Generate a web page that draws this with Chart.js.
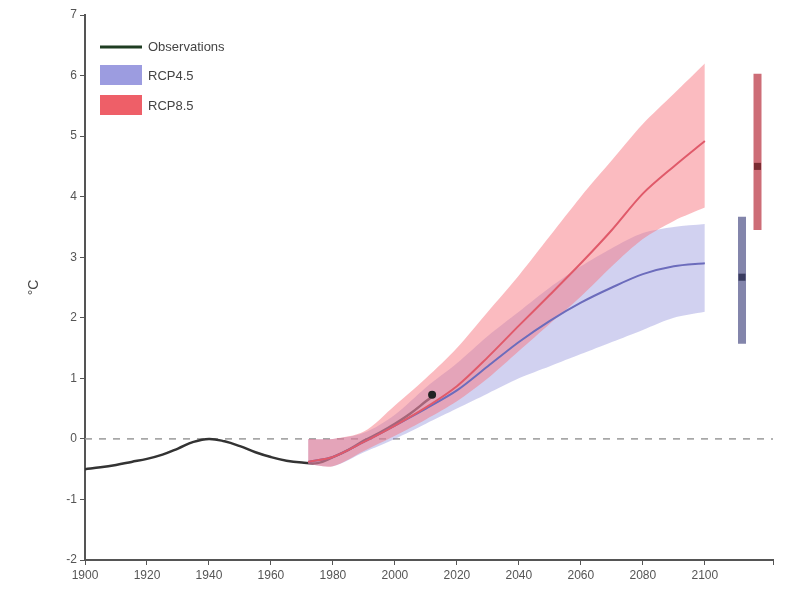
<!DOCTYPE html>
<html>
<head>
<meta charset="utf-8">
<script src="https://cdn.jsdelivr.net/npm/chart.js@4.4.0/dist/chart.umd.min.js"></script>
<style>
  html, body { margin: 0; padding: 0; background: #fff; }
  #wrap { width: 798px; height: 594px; }
</style>
</head>
<body>
<div id="wrap"><canvas id="tempChart"></canvas></div>
<script>
// Observed temperature anomaly (°C)
const obsYears = [1900, 1905, 1910, 1915, 1920, 1925, 1930, 1935, 1940, 1945, 1950, 1955, 1960, 1965, 1970, 1975, 1980, 1985, 1990, 1995, 2000, 2005, 2010, 2012];
const obsValues = [-0.5, -0.47, -0.43, -0.38, -0.33, -0.26, -0.16, -0.05, 0.0, -0.04, -0.12, -0.22, -0.3, -0.36, -0.39, -0.4, -0.3, -0.18, -0.03, 0.1, 0.25, 0.42, 0.62, 0.7];

// Projection years
const projYears = [1972, 1980, 1990, 2000, 2010, 2020, 2030, 2040, 2050, 2060, 2070, 2080, 2090, 2100];

// RCP8.5
const rcp85Mean  = [-0.38, -0.3, -0.05, 0.22, 0.52, 0.87, 1.35, 1.87, 2.38, 2.9, 3.45, 4.05, 4.5, 4.92];
const rcp85Upper = [0.0, 0.0, 0.12, 0.55, 1.0, 1.5, 2.1, 2.7, 3.35, 4.0, 4.6, 5.2, 5.7, 6.2];
const rcp85Lower = [-0.42, -0.45, -0.2, 0.05, 0.32, 0.62, 1.0, 1.45, 1.9, 2.35, 2.85, 3.3, 3.6, 3.82];

// RCP4.5
const rcp45Mean  = [-0.38, -0.3, -0.05, 0.22, 0.5, 0.8, 1.2, 1.6, 1.95, 2.25, 2.5, 2.72, 2.85, 2.9];
const rcp45Upper = [0.0, 0.0, 0.1, 0.4, 0.85, 1.25, 1.7, 2.1, 2.5, 2.85, 3.15, 3.4, 3.5, 3.55];
const rcp45Lower = [-0.42, -0.45, -0.22, 0.0, 0.25, 0.5, 0.75, 1.0, 1.2, 1.4, 1.6, 1.8, 2.0, 2.1];

// End-of-century ranges shown at the right
const rangeNames = ['RCP4.5', 'RCP8.5'];
const rangeX     = [2112, 2117];
const rangeLow   = [1.57, 3.45];
const rangeHigh  = [3.67, 6.03];
const rangeMid   = [2.67, 4.5];

// Last observed point marker
const lastObs = { x: 2012, y: 0.73 };

// Reference line at zero
const zeroLineX = [1900, 2122];

function pts(xs, ys) {
    return xs.map((x, i) => ({ x: x, y: ys[i] }));
}

const red = '#e05a6a';
const redBand = 'rgba(248, 120, 130, 0.5)';
const blue = '#6c6cbc';
const blueBand = 'rgba(135, 135, 215, 0.38)';
const font = '"Liberation Sans", Arial, sans-serif';

// Note: with equal "order", earlier datasets are drawn on top
const datasets = [
    // vertical range bars: medians first so they sit on top
    {
        label: 'RCP4.5 median', data: [{ x: rangeX[0], y: rangeMid[0] }],
        showLine: false, pointStyle: 'rect', pointRadius: 5,
        pointBackgroundColor: '#3a3c60', pointBorderWidth: 0,
    },
    {
        label: 'RCP8.5 median', data: [{ x: rangeX[1], y: rangeMid[1] }],
        showLine: false, pointStyle: 'rect', pointRadius: 5,
        pointBackgroundColor: '#7a2c32', pointBorderWidth: 0,
    },
    {
        label: 'RCP4.5 range', data: pts([rangeX[0], rangeX[0]], [rangeLow[0], rangeHigh[0]]),
        borderColor: '#8385ab', borderWidth: 8, borderCapStyle: 'butt', pointRadius: 0, fill: false,
    },
    {
        label: 'RCP8.5 range', data: pts([rangeX[1], rangeX[1]], [rangeLow[1], rangeHigh[1]]),
        borderColor: '#cd6d77', borderWidth: 8, borderCapStyle: 'butt', pointRadius: 0, fill: false,
    },
    // last observation marker
    {
        label: 'lastObs', data: [lastObs],
        showLine: false, pointRadius: 4, pointBackgroundColor: '#222', pointBorderWidth: 0,
    },
    // means
    {
        label: 'rcp85mean', data: pts(projYears, rcp85Mean),
        borderColor: red, borderWidth: 2, pointRadius: 0, fill: false, tension: 0.3,
    },
    {
        label: 'rcp45mean', data: pts(projYears, rcp45Mean),
        borderColor: blue, borderWidth: 2, pointRadius: 0, fill: false, tension: 0.3,
    },
    // RCP8.5 band (upper filled to lower)
    {
        label: 'RCP8.5', data: pts(projYears, rcp85Upper),
        borderWidth: 0, pointRadius: 0, backgroundColor: redBand, fill: '+1', tension: 0.3,
    },
    {
        label: 'rcp85lower', data: pts(projYears, rcp85Lower),
        borderWidth: 0, pointRadius: 0, fill: false, tension: 0.3,
    },
    // RCP4.5 band
    {
        label: 'RCP4.5', data: pts(projYears, rcp45Upper),
        borderWidth: 0, pointRadius: 0, backgroundColor: blueBand, fill: '+1', tension: 0.3,
    },
    {
        label: 'rcp45lower', data: pts(projYears, rcp45Lower),
        borderWidth: 0, pointRadius: 0, fill: false, tension: 0.3,
    },
    // observations (under the projections)
    {
        label: 'Observations', data: pts(obsYears, obsValues),
        borderColor: '#333333', borderWidth: 2.5, pointRadius: 0, fill: false, tension: 0.4,
    },
    // zero reference line
    {
        label: 'zero', data: zeroLineX.map(x => ({ x: x, y: 0 })),
        borderColor: '#9a9a9a', borderWidth: 1.5, borderDash: [7, 7],
        pointRadius: 0, fill: false,
    },
];

// legend drawn in the top-left of the plot area
const insideLegend = {
    id: 'insideLegend',
    afterDraw(chart) {
        const ctx = chart.ctx;
        const a = chart.chartArea;
        const x0 = a.left + 15;
        ctx.save();
        ctx.font = '13px ' + font;
        ctx.textBaseline = 'middle';
        // Observations
        ctx.strokeStyle = '#1f3d22';
        ctx.lineWidth = 3;
        ctx.beginPath();
        ctx.moveTo(x0, a.top + 32);
        ctx.lineTo(x0 + 42, a.top + 32);
        ctx.stroke();
        ctx.fillStyle = '#444';
        ctx.fillText('Observations', x0 + 48, a.top + 32);
        // RCP4.5
        ctx.fillStyle = '#9c9ce0';
        ctx.fillRect(x0, a.top + 50, 42, 20);
        ctx.fillStyle = '#444';
        ctx.fillText('RCP4.5', x0 + 48, a.top + 61);
        // RCP8.5
        ctx.fillStyle = '#ee5f68';
        ctx.fillRect(x0, a.top + 80, 42, 20);
        ctx.fillStyle = '#444';
        ctx.fillText('RCP8.5', x0 + 48, a.top + 91);
        ctx.restore();
    }
};

const ctx = document.getElementById('tempChart').getContext('2d');
const chart = new Chart(ctx, {
    type: 'line',
    data: { datasets: datasets },
    options: {
        responsive: true,
        maintainAspectRatio: false,
        animation: false,
        layout: { padding: { left: 22, top: 15, right: 25, bottom: 0 } },
        plugins: {
            legend: { display: false },
            tooltip: { enabled: false },
        },
        scales: {
            x: {
                type: 'linear',
                min: 1900,
                max: 2122,
                grid: { drawOnChartArea: false, color: '#555', tickLength: 5 },
                border: { color: '#555', width: 2 },
                ticks: {
                    stepSize: 20,
                    color: '#555',
                    font: { size: 12, family: font },
                    callback: (v) => (v <= 2100 ? String(v) : ''),
                    maxRotation: 0,
                    autoSkip: false,
                },
                afterFit: (scale) => { scale.height = 34; },
            },
            y: {
                min: -2,
                max: 7,
                grid: { drawOnChartArea: false, color: '#555', tickLength: 5 },
                border: { color: '#555', width: 2 },
                ticks: {
                    stepSize: 1,
                    color: '#555',
                    font: { size: 12, family: font },
                },
                title: {
                    display: true,
                    text: '°C',
                    color: '#444',
                    font: { size: 14, family: font },
                },
                afterFit: (scale) => { scale.width = 63; },
            },
        },
    },
    plugins: [insideLegend],
});
</script>
</body>
</html>
